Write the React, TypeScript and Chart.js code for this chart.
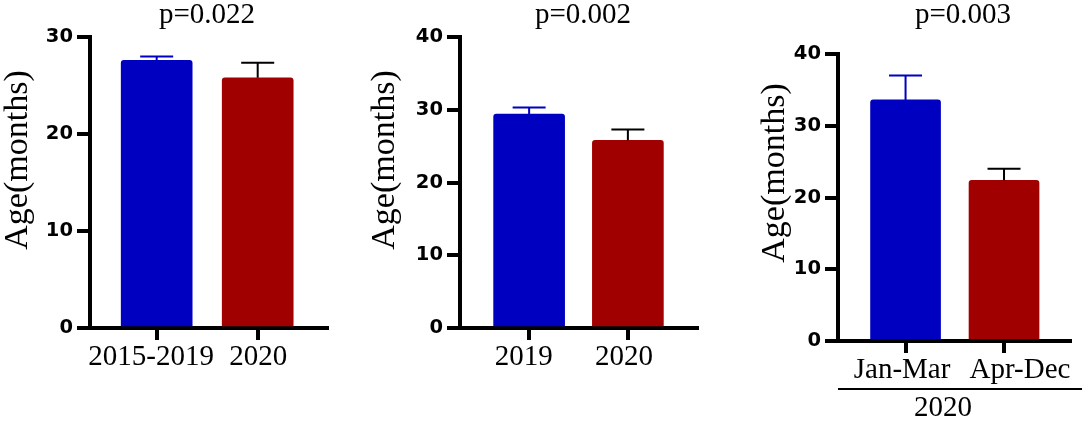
import React, { useEffect, useRef } from 'react';
import { Chart, registerables } from 'chart.js';

Chart.register(...registerables);

// ---------- data ----------
const cats1 = ['2015-2019', '2020'];
const means1 = [27.6, 25.8];
const sem1 = [0.4, 1.55];

const cats2 = ['2019', '2020'];
const means2 = [29.4, 25.8];
const sem2 = [0.9, 1.5];

const cats3 = ['Jan-Mar', 'Apr-Dec'];
const means3 = [33.6, 22.4];
const sem3 = [3.4, 1.6];

const pLabels = ['p=0.022', 'p=0.002', 'p=0.003'];
const yMaxes = [30, 40, 40];
const yStep = 10;
const yTitle = 'Age(months)';
const groupLabel3 = '2020';

const barColors = ['#0000C0', '#A00000'];
const errColors = ['#0000C0', '#000000'];

const SERIF = "'Liberation Serif', 'Times New Roman', serif";
const SANS = "'DejaVu Sans', 'Liberation Sans', Arial, sans-serif";

// ---------- layout (not data) ----------
const H = 421;
const panels = [
  {
    cats: cats1, means: means1, sem: sem1, p: pLabels[0], yMax: yMaxes[0],
    left: 0, width: 360, area: { l: 90, r: 327, t: 37, b: 328 },
    xmin: -0.66, xmax: 1.686, barW: 71, labShift: [-5.5, 0.5],
    titleX: 207, titleY: 15, yLabX: 18, yLabY: 160, group: null as null | string,
  },
  {
    cats: cats2, means: means2, sem: sem2, p: pLabels[1], yMax: yMaxes[1],
    left: 360, width: 360, area: { l: 100, r: 337, t: 37, b: 328 },
    xmin: -0.70, xmax: 1.70, barW: 71, labShift: [-5.5, -4],
    titleX: 223, titleY: 15, yLabX: 25, yLabY: 160, group: null as null | string,
  },
  {
    cats: cats3, means: means3, sem: sem3, p: pLabels[2], yMax: yMaxes[2],
    left: 720, width: 364, area: { l: 118, r: 350, t: 54, b: 341 },
    xmin: -0.686, xmax: 1.67, barW: 70, labShift: [-3.5, 16],
    titleX: 243, titleY: 15, yLabX: 55, yLabY: 173, group: groupLabel3 as null | string,
  },
];

const overlayPlugin = {
  id: 'overlay',
  afterDatasetsDraw(chart: any, _args: any, opts: any) {
    const { ctx } = chart;
    const xs = chart.scales.x;
    const ys = chart.scales.y;
    opts.means.forEach((m: number, i: number) => {
      const px = xs.getPixelForValue(i);
      const y0 = ys.getPixelForValue(m);
      const y1 = ys.getPixelForValue(m + opts.sem[i]);
      ctx.save();
      ctx.strokeStyle = errColors[i];
      ctx.lineWidth = 2;
      ctx.beginPath();
      ctx.moveTo(px, y0);
      ctx.lineTo(px, y1);
      ctx.moveTo(px - 16.5, y1);
      ctx.lineTo(px + 16.5, y1);
      ctx.stroke();
      ctx.restore();
    });
  },
  afterDraw(chart: any, _args: any, opts: any) {
    const { ctx, chartArea } = chart;
    const xs = chart.scales.x;
    ctx.save();
    ctx.fillStyle = '#000';
    ctx.textAlign = 'center';
    ctx.textBaseline = 'middle';
    ctx.font = `29px ${SERIF}`;
    ctx.fillText(opts.p, opts.titleX, opts.titleY);

    // category labels, placed at the x scale's tick pixels
    opts.cats.forEach((c: string, i: number) => {
      ctx.fillText(c, xs.getPixelForValue(i) + opts.labShift[i], chartArea.bottom + 29);
    });

    ctx.save();
    ctx.translate(opts.yLabX, opts.yLabY);
    ctx.rotate(-Math.PI / 2);
    ctx.font = `34px ${SERIF}`;
    ctx.fillText(yTitle, 0, 0);
    ctx.restore();

    if (opts.group) {
      ctx.strokeStyle = '#000';
      ctx.lineWidth = 2;
      ctx.beginPath();
      ctx.moveTo(chartArea.left, 389);
      ctx.lineTo(chart.width - 2, 389);
      ctx.stroke();
      ctx.font = `29px ${SERIF}`;
      ctx.fillText(opts.group, 223, 408);
    }
    ctx.restore();
  },
};

function Panel({ cfg }: { cfg: (typeof panels)[number] }) {
  const ref = useRef<HTMLCanvasElement | null>(null);
  useEffect(() => {
    if (!ref.current) return;
    const chart = new Chart(ref.current, {
      type: 'bar',
      data: {
        datasets: [
          {
            data: cfg.means.map((m, i) => ({ x: i, y: m })),
            backgroundColor: barColors,
            borderWidth: 0,
            barThickness: cfg.barW,
            borderRadius: { topLeft: 3, topRight: 3, bottomLeft: 0, bottomRight: 0 },
            borderSkipped: 'start',
          } as any,
        ],
      },
      plugins: [overlayPlugin as any],
      options: {
        responsive: false,
        animation: false,
        devicePixelRatio: 1,
        layout: {
          padding: { left: 0, right: cfg.width - cfg.area.r, top: cfg.area.t, bottom: 0 },
        },
        plugins: {
          legend: { display: false },
          tooltip: { enabled: false },
          title: { display: false },
          overlay: {
            means: cfg.means, sem: cfg.sem, p: cfg.p, cats: cfg.cats, labShift: cfg.labShift,
            titleX: cfg.titleX, titleY: cfg.titleY,
            yLabX: cfg.yLabX, yLabY: cfg.yLabY, group: cfg.group,
          },
        } as any,
        scales: {
          x: {
            type: 'linear',
            offset: false,
            min: cfg.xmin,
            max: cfg.xmax,
            afterBuildTicks: (s: any) => {
              s.ticks = cfg.cats.map((_, i) => ({ value: i }));
            },
            afterFit: (s: any) => {
              s.height = H - cfg.area.b;
            },
            ticks: {
              display: false,
              autoSkip: false,
              maxRotation: 0,
            },
            grid: {
              offset: false,
              drawOnChartArea: false,
              drawTicks: true,
              tickLength: 12,
              lineWidth: 4,
              color: '#000',
            },
            border: { display: true, width: 4, color: '#000' },
          },
          y: {
            type: 'linear',
            min: 0,
            max: cfg.yMax,
            afterFit: (s: any) => {
              s.width = cfg.area.l;
            },
            ticks: {
              stepSize: yStep,
              padding: 4,
              color: '#000',
              font: { family: SANS, size: 19.5, weight: 'bold' },
            },
            grid: {
              drawOnChartArea: false,
              drawTicks: true,
              tickLength: 13,
              lineWidth: 4,
              color: '#000',
            },
            border: { display: true, width: 4, color: '#000' },
          },
        } as any,
      },
    });
    return () => chart.destroy();
  }, [cfg]);
  return (
    <canvas
      ref={ref}
      width={cfg.width}
      height={H}
      style={{ position: 'absolute', left: cfg.left, top: 0, width: cfg.width, height: H }}
    />
  );
}

export default function App() {
  return (
    <div style={{ position: 'absolute', left: 0, top: 0, width: 1084, height: H, background: '#fff', overflow: 'hidden' }}>
      {panels.map((p, i) => (
        <Panel key={i} cfg={p} />
      ))}
    </div>
  );
}
